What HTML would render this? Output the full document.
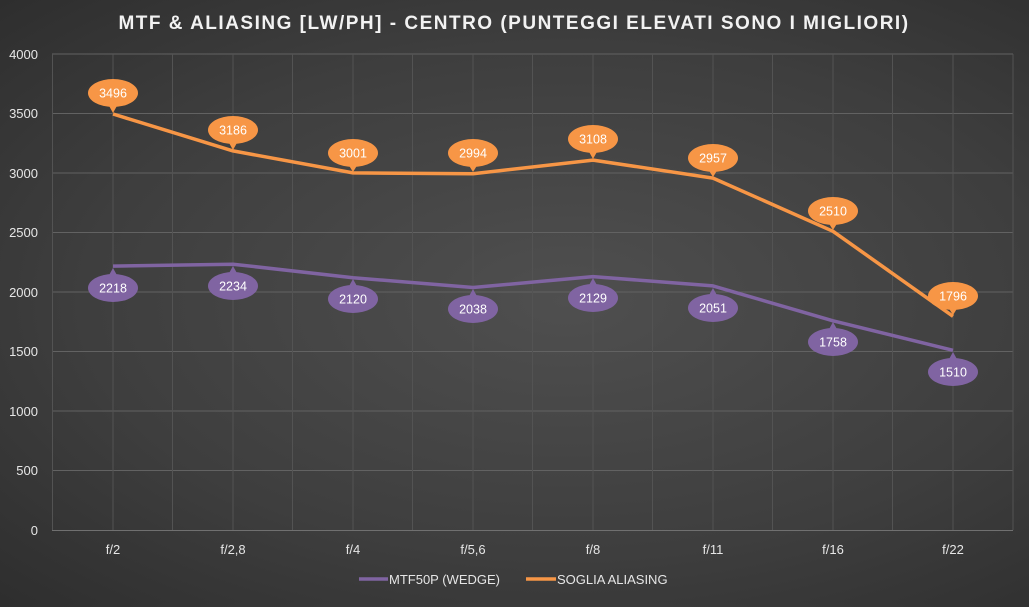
<!DOCTYPE html>
<html><head><meta charset="utf-8"><style>
html,body{margin:0;padding:0;}
body{width:1029px;height:602px;overflow:hidden;background:radial-gradient(ellipse at 55% 50%,#4f4f4f 0%,#3e3e3e 60%,#2e2e2e 100%);font-family:"Liberation Sans",sans-serif;}
</style></head><body>
<svg width="1029" height="602" xmlns="http://www.w3.org/2000/svg" font-family="Liberation Sans, sans-serif">
<text x="514" y="29" text-anchor="middle" fill="#f2f2f2" font-size="19" font-weight="bold" letter-spacing="1.5">MTF &amp; ALIASING [LW/PH] - CENTRO (PUNTEGGI ELEVATI SONO I MIGLIORI)</text>
<g stroke="#626262" stroke-width="1">
<line x1="52" y1="54" x2="1013" y2="54"/><line x1="52" y1="113.5" x2="1013" y2="113.5"/><line x1="52" y1="173" x2="1013" y2="173"/><line x1="52" y1="232.5" x2="1013" y2="232.5"/><line x1="52" y1="292" x2="1013" y2="292"/><line x1="52" y1="351.5" x2="1013" y2="351.5"/><line x1="52" y1="411" x2="1013" y2="411"/><line x1="52" y1="470.5" x2="1013" y2="470.5"/>
</g>
<g stroke="#535353" stroke-width="1">
<line x1="52.5" y1="54" x2="52.5" y2="530"/><line x1="113" y1="54" x2="113" y2="530"/><line x1="172.5" y1="54" x2="172.5" y2="530"/><line x1="233" y1="54" x2="233" y2="530"/><line x1="292.5" y1="54" x2="292.5" y2="530"/><line x1="353" y1="54" x2="353" y2="530"/><line x1="412.5" y1="54" x2="412.5" y2="530"/><line x1="473" y1="54" x2="473" y2="530"/><line x1="532.5" y1="54" x2="532.5" y2="530"/><line x1="593" y1="54" x2="593" y2="530"/><line x1="652.5" y1="54" x2="652.5" y2="530"/><line x1="713" y1="54" x2="713" y2="530"/><line x1="772.5" y1="54" x2="772.5" y2="530"/><line x1="833" y1="54" x2="833" y2="530"/><line x1="892.5" y1="54" x2="892.5" y2="530"/><line x1="953" y1="54" x2="953" y2="530"/><line x1="1013" y1="54" x2="1013" y2="530"/>
</g>
<line x1="52" y1="530.5" x2="1013" y2="530.5" stroke="#707070"/>
<g fill="#e6e6e6" font-size="13" text-anchor="end">
<text x="38" y="59">4000</text><text x="38" y="118">3500</text><text x="38" y="178">3000</text><text x="38" y="237">2500</text><text x="38" y="297">2000</text><text x="38" y="356">1500</text><text x="38" y="416">1000</text><text x="38" y="475">500</text><text x="38" y="535">0</text>
</g>
<g fill="#e6e6e6" font-size="13" text-anchor="middle">
<text x="113" y="554">f/2</text><text x="233" y="554">f/2,8</text><text x="353" y="554">f/4</text><text x="473" y="554">f/5,6</text><text x="593" y="554">f/8</text><text x="713" y="554">f/11</text><text x="833" y="554">f/16</text><text x="953" y="554">f/22</text>
</g>
<polyline fill="none" stroke="#8064a2" stroke-width="3.5" stroke-linejoin="round" points="113,266.1 233,264.2 353,277.7 473,287.5 593,276.6 713,285.9 833,320.8 953,350.3"/>
<polyline fill="none" stroke="#f79646" stroke-width="3.5" stroke-linejoin="round" points="113,114 233,150.9 353,172.9 473,173.7 593,160.1 713,178.1 833,231.3 953,316.3"/>
<g font-size="12.5" text-anchor="middle" fill="#fff">
<g fill="#f79646">
<ellipse cx="113" cy="93" rx="25" ry="14"/><path d="M108,104 L113,113 L118,104Z"/>
<ellipse cx="233" cy="130" rx="25" ry="14"/><path d="M228,141 L233,150 L238,141Z"/>
<ellipse cx="353" cy="153" rx="25" ry="14"/><path d="M348,164 L353,172 L358,164Z"/>
<ellipse cx="473" cy="153" rx="25" ry="14"/><path d="M468,164 L473,172 L478,164Z"/>
<ellipse cx="593" cy="139" rx="25" ry="14"/><path d="M588,150 L593,159 L598,150Z"/>
<ellipse cx="713" cy="158" rx="25" ry="14"/><path d="M708,169 L713,177 L718,169Z"/>
<ellipse cx="833" cy="211" rx="25" ry="14"/><path d="M828,222 L833,230 L838,222Z"/>
<ellipse cx="953" cy="296" rx="25" ry="14"/><path d="M948,307 L953,315 L958,307Z"/>
</g>
<g fill="#8064a2">
<ellipse cx="113" cy="288" rx="25" ry="14"/><path d="M108,277 L113,268 L118,277Z"/>
<ellipse cx="233" cy="286" rx="25" ry="14"/><path d="M228,275 L233,266 L238,275Z"/>
<ellipse cx="353" cy="299" rx="25" ry="14"/><path d="M348,288 L353,279 L358,288Z"/>
<ellipse cx="473" cy="309" rx="25" ry="14"/><path d="M468,298 L473,289 L478,298Z"/>
<ellipse cx="593" cy="298" rx="25" ry="14"/><path d="M588,287 L593,278 L598,287Z"/>
<ellipse cx="713" cy="308" rx="25" ry="14"/><path d="M708,297 L713,288 L718,297Z"/>
<ellipse cx="833" cy="342" rx="25" ry="14"/><path d="M828,331 L833,322 L838,331Z"/>
<ellipse cx="953" cy="372" rx="25" ry="14"/><path d="M948,361 L953,352 L958,361Z"/>
</g>
<text x="113" y="97.5">3496</text><text x="233" y="134.5">3186</text><text x="353" y="157.5">3001</text><text x="473" y="157.5">2994</text><text x="593" y="143.5">3108</text><text x="713" y="162.5">2957</text><text x="833" y="215.5">2510</text><text x="953" y="300.5">1796</text>
<text x="113" y="292.5">2218</text><text x="233" y="290.5">2234</text><text x="353" y="303.5">2120</text><text x="473" y="313.5">2038</text><text x="593" y="302.5">2129</text><text x="713" y="312.5">2051</text><text x="833" y="346.5">1758</text><text x="953" y="376.5">1510</text>
</g>
<line x1="359" y1="579" x2="388" y2="579" stroke="#8064a2" stroke-width="3.5"/>
<text x="389" y="584" fill="#e6e6e6" font-size="13">MTF50P (WEDGE)</text>
<line x1="526" y1="579" x2="556" y2="579" stroke="#f79646" stroke-width="3.5"/>
<text x="557" y="584" fill="#e6e6e6" font-size="13">SOGLIA ALIASING</text>
</svg>
</body></html>
